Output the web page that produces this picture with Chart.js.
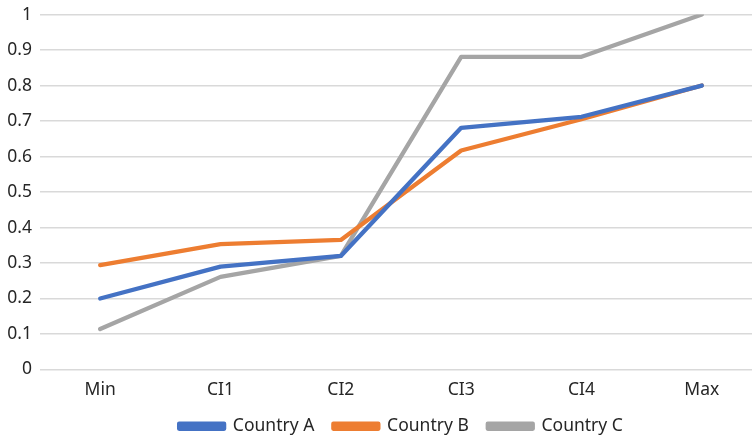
<!DOCTYPE html>
<html>
<head>
<meta charset="utf-8">
<script src="https://cdn.jsdelivr.net/npm/chart.js@4"></script>
<style>
    html, body { margin: 0; padding: 0; background: #fff; overflow: hidden; }
    #wrap { width: 793px; height: 437px; position: relative; }
</style>
</head>
<body>
<div id="wrap"><canvas id="chart"></canvas></div>
<script>
const categories = ['Min', 'CI1', 'CI2', 'CI3', 'CI4', 'Max'];
const countryA = [0.200, 0.290, 0.320, 0.681, 0.712, 0.800];
const countryB = [0.294, 0.353, 0.365, 0.617, 0.705, 0.800];
const countryC = [0.114, 0.261, 0.320, 0.881, 0.881, 1.000];
const seriesNames = ['Country A', 'Country B', 'Country C'];
const seriesColors = ['#4472C4', '#ED7D31', '#A5A5A5'];

const font = { family: '"Noto Sans", "Open Sans", sans-serif', size: 17.5 };
const yFont = { ...font, lineHeight: 0.75 };
const textColor = '#262626';

const makeSet = (label, data, color) => ({
    label,
    data,
    borderColor: color,
    backgroundColor: color,
    borderWidth: 4.3,
    borderJoinStyle: 'round',
    borderCapStyle: 'round',
    pointRadius: 0,
    tension: 0,
    fill: false
});

new Chart(document.getElementById('chart').getContext('2d'), {
    type: 'line',
    data: {
        labels: categories,
        datasets: [
            makeSet(seriesNames[0], countryA, seriesColors[0]),
            makeSet(seriesNames[1], countryB, seriesColors[1]),
            makeSet(seriesNames[2], countryC, seriesColors[2])
        ]
    },
    options: {
        responsive: true,
        maintainAspectRatio: false,
        animation: false,
        layout: { padding: { top: 0, right: 31, left: 0, bottom: -8 } },
        scales: {
            x: {
                offset: true,
                grid: { display: false, drawTicks: false },
                border: { display: false },
                ticks: { color: textColor, font, padding: 10 },
                afterFit: (scale) => { scale.height = 29; }
            },
            y: {
                min: 0,
                max: 1,
                grid: { color: '#D9D9D9', lineWidth: 1.4, drawTicks: false },
                border: { display: false },
                ticks: {
                    stepSize: 0.1,
                    color: textColor,
                    font: yFont,
                    padding: 8,
                    callback: (v) => String(Number(v.toFixed(1)))
                },
                afterFit: (scale) => { scale.width = 40; }
            }
        },
        plugins: {
            legend: {
                position: 'bottom',
                fullSize: false,
                labels: {
                    color: textColor,
                    font,
                    boxWidth: 45,
                    boxHeight: 5,
                    padding: 19
                }
            },
            tooltip: { enabled: false }
        }
    }
});
</script>
</body>
</html>
